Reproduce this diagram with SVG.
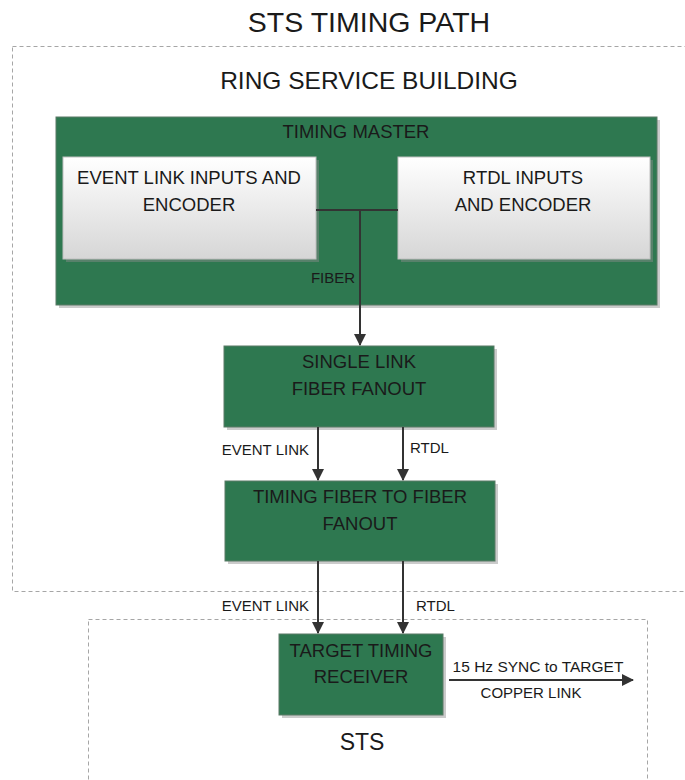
<svg xmlns="http://www.w3.org/2000/svg" width="685" height="780" viewBox="0 0 685 780">
<style>
text{font-family:"Liberation Sans",Arial,sans-serif;fill:#1a1a1a;text-anchor:middle}
.region{fill:none;stroke:#a6a6a6;stroke-width:1;stroke-dasharray:4 3}
.green{fill:#2e7850;stroke:#5a7a66;stroke-width:1}
.shadow{fill:#8c8c8c;opacity:0.45}
.white{fill:url(#wg);stroke:#bfbfbf;stroke-width:1}
.conn{stroke:#333;stroke-width:2;fill:none}
.box{font-size:18.5px}
.lbl{font-size:15px}
</style>
<defs>
<linearGradient id="wg" x1="0" y1="0" x2="0" y2="1">
<stop offset="0" stop-color="#ffffff"/>
<stop offset="1" stop-color="#d6d6d6"/>
</linearGradient>
<marker id="ah" markerWidth="12" markerHeight="12" viewBox="0 0 12 12" refX="11" refY="6" orient="auto" markerUnits="userSpaceOnUse">
<path d="M0,0 L12,6 L0,12 z" fill="#333"/>
</marker>
</defs>
<rect width="685" height="780" fill="#fff"/>
<text x="369" y="32" font-size="28.5">STS TIMING PATH</text>
<g id="ring-service-building">
<rect class="region" x="12.5" y="46.5" width="700" height="545"/>
<text x="369" y="89" font-size="24.5">RING SERVICE BUILDING</text>
</g>
<g id="sts">
<rect class="region" x="88.5" y="619.5" width="559" height="200"/>
<text x="362" y="750" font-size="23">STS</text>
</g>
<g id="timing-master">
<rect class="shadow" x="59" y="120" width="601" height="188"/>
<rect class="green" x="56" y="117" width="601" height="188"/>
<text class="box" x="356" y="138" font-size="19">TIMING MASTER</text>
</g>
<g id="event-link-inputs">
<rect class="shadow" x="66" y="160" width="253" height="102"/>
<rect class="white" x="63" y="157" width="253" height="102"/>
<text class="box" x="189" y="184">EVENT LINK INPUTS AND</text>
<text class="box" x="189" y="211">ENCODER</text>
</g>
<g id="rtdl-inputs">
<rect class="shadow" x="401" y="160" width="252" height="102"/>
<rect class="white" x="398" y="157" width="252" height="102"/>
<text class="box" x="523" y="184">RTDL INPUTS</text>
<text class="box" x="523" y="211">AND ENCODER</text>
</g>
<g id="single-link-fanout">
<rect class="shadow" x="227" y="349" width="270" height="81"/>
<rect class="green" x="224" y="346" width="270" height="81"/>
<text class="box" x="359" y="368">SINGLE LINK</text>
<text class="box" x="359" y="395">FIBER FANOUT</text>
</g>
<g id="fiber-to-fiber-fanout">
<rect class="shadow" x="228" y="484" width="270" height="80"/>
<rect class="green" x="225" y="481" width="270" height="80"/>
<text class="box" x="360" y="503">TIMING FIBER TO FIBER</text>
<text class="box" x="360" y="530">FANOUT</text>
</g>
<g id="target-timing-receiver">
<rect class="shadow" x="282" y="637" width="164" height="81"/>
<rect class="green" x="279" y="634" width="164" height="81"/>
<text class="box" x="361" y="657">TARGET TIMING</text>
<text class="box" x="361" y="683">RECEIVER</text>
</g>
<g id="connectors">
<path class="conn" d="M316,210 H398"/>
<path class="conn" d="M360,210 V345" marker-end="url(#ah)"/>
<path class="conn" d="M318,427 V480" marker-end="url(#ah)"/>
<path class="conn" d="M403,427 V480" marker-end="url(#ah)"/>
<path class="conn" d="M318,561 V633" marker-end="url(#ah)"/>
<path class="conn" d="M403,561 V633" marker-end="url(#ah)"/>
<path class="conn" d="M449,680 H633" marker-end="url(#ah)"/>
<text class="lbl" x="333" y="283">FIBER</text>
<text class="lbl" x="309" y="455" style="text-anchor:end">EVENT LINK</text>
<text class="lbl" x="410" y="453" style="text-anchor:start">RTDL</text>
<text class="lbl" x="309" y="611" style="text-anchor:end">EVENT LINK</text>
<text class="lbl" x="416" y="611" style="text-anchor:start">RTDL</text>
<text x="538" y="672" font-size="15.5">15 Hz SYNC to TARGET</text>
<text x="531" y="698" font-size="15">COPPER LINK</text>
</g>
</svg>
